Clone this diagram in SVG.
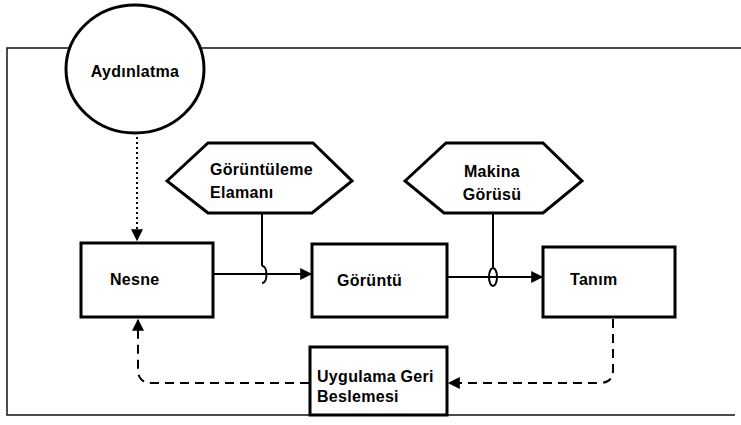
<svg xmlns="http://www.w3.org/2000/svg" width="741" height="425" viewBox="0 0 741 425">
<defs>
<style>
.frame{fill:none;stroke:#111;stroke-width:1.5}
.node{fill:#fff;stroke:#000;stroke-width:3}
.lbl{font-family:"Liberation Sans",Arial,sans-serif;font-weight:bold;font-size:16px;letter-spacing:0.3px;fill:#000}
.conn{fill:none;stroke:#000;stroke-width:2}
.dot{stroke-dasharray:2 3}
.dash{stroke-dasharray:9 6}
</style>
<marker id="arrB" viewBox="0 0 10 10" refX="9" refY="5" markerWidth="14" markerHeight="12" markerUnits="userSpaceOnUse" orient="auto">
<path d="M0,0 L10,5 L0,10 z" fill="#000"/>
</marker>
</defs>
<path class="frame" d="M741,48 L7,48 L7,415 L735,415"/>
<g id="connectors">
<path class="conn dot" d="M137,137 L137,240" marker-end="url(#arrB)"/>
<path class="conn" d="M213,274 L311,274" marker-end="url(#arrB)"/>
<path class="conn" d="M262,213 L262,266 M262,266 C268,266 268,283 262,283"/>
<path class="conn" d="M447,277 L542,277" marker-end="url(#arrB)"/>
<path class="conn" d="M493,213 L493,267"/>
<ellipse cx="493" cy="277" rx="4" ry="9" class="conn"/>
<path class="conn dash" d="M613,319 L613,370 Q613,383 600,383 L449,383" marker-end="url(#arrB)"/>
<path class="conn dash" d="M309,383 L152,383 Q138,383 138,370 L138,320" marker-end="url(#arrB)"/>
</g>
<g id="aydinlatma">
<ellipse class="node" cx="135" cy="69" rx="69" ry="64"/>
<text class="lbl" x="135" y="77" text-anchor="middle">Aydınlatma</text>
</g>
<g id="goruntuleme-elamani">
<polygon class="node" points="167,181 208,143 313,143 352,181 312,213 208,213"/>
<text class="lbl" x="210" y="175">Görüntüleme</text>
<text class="lbl" x="210" y="198">Elamanı</text>
</g>
<g id="makina-gorusu">
<polygon class="node" points="405,181 446,143 543,143 582,181 543,213 444,213"/>
<text class="lbl" x="492" y="177" text-anchor="middle">Makina</text>
<text class="lbl" x="492" y="200" text-anchor="middle">Görüsü</text>
</g>
<g id="nesne">
<rect class="node" x="81" y="243" width="132" height="74"/>
<text class="lbl" x="110" y="285">Nesne</text>
</g>
<g id="goruntu">
<rect class="node" x="312" y="244" width="135" height="73"/>
<text class="lbl" x="337" y="286">Görüntü</text>
</g>
<g id="tanim">
<rect class="node" x="543" y="247" width="132" height="70"/>
<text class="lbl" x="570" y="285">Tanım</text>
</g>
<g id="uygulama">
<rect class="node" x="310" y="347" width="137" height="68"/>
<text class="lbl" x="317" y="382">Uygulama Geri</text>
<text class="lbl" x="317" y="402">Beslemesi</text>
</g>
</svg>
